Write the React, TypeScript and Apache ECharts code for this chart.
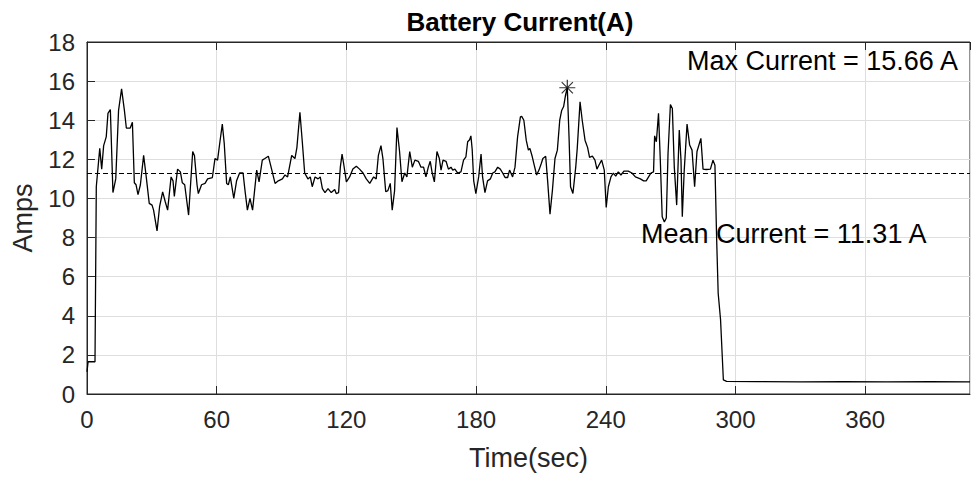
import React, { useEffect, useRef } from "react";
import * as echarts from "echarts";

const timeSec = [
  0, 0.5, 3.7, 4.3, 5.9, 6.8, 7.7, 8.9, 9.7, 10.8, 11.1, 12.0, 13.3, 14.6, 16.0, 17.3, 18.2, 20.0, 21.0, 21.9,
  22.7, 23.6, 24.7, 26.2, 27.4, 28.8, 30.1, 30.8, 32.4, 33.6, 35.0, 36.2, 37.3, 38.9, 39.8, 40.4, 41.9, 43.2, 44.1, 45.2,
  47.0, 48.9, 49.7, 50.9, 51.5, 53.0, 54.6, 55.8, 58.0, 59.2, 60.4, 61.5, 62.6, 63.5, 64.6, 65.4, 66.3, 67.9, 69.2, 70.6,
  72.2, 73.1, 74.2, 75.4, 76.6, 78.5, 79.6, 81.1, 82.3, 83.9, 85.4, 87.0, 88.5, 90.4, 91.6, 92.8, 94.7, 96.2, 97.1, 98.5,
  99.6, 100.7, 102.2, 103.3, 104.2, 105.5, 106.9, 107.9, 108.9, 110.1, 111.5, 113.0, 114.6, 115.3, 116.4, 117.2, 118.0, 118.7, 120.0, 121.5,
  123.0, 124.6, 126.1, 127.7, 129.2, 130.8, 132.6, 133.8, 134.8, 136.0, 136.9, 138.2, 139.2, 140.3, 141.2, 142.3, 143.4, 144.6, 145.7, 147.0,
  148.0, 149.3, 150.5, 151.7, 153.3, 154.5, 155.7, 156.8, 157.9, 158.8, 159.7, 160.7, 161.9, 163.0, 163.8, 164.7, 166.1, 167.2, 168.4, 169.2,
  170.2, 171.5, 173.0, 174.2, 175.3, 176.1, 177.0, 177.6, 178.2, 178.9, 179.9, 181.2, 182.3, 183.0, 184.1, 185.3, 186.6, 187.7, 188.7, 190.0,
  191.2, 192.3, 193.4, 194.6, 195.5, 196.9, 198.0, 199.2, 200.5, 201.1, 202.1, 203.2, 204.2, 204.9, 206.0, 206.9, 208.0, 209.1, 210.2, 210.9,
  212.2, 213.1, 214.2, 215.3, 216.5, 217.6, 218.7, 219.6, 220.5, 221.4, 222.2, 223.0, 223.7, 224.8, 226.1, 226.8, 228.1, 229.1, 230.4, 231.6,
  232.5, 233.8, 235.0, 235.9, 236.8, 238.1, 239.3, 240.2, 241.2, 242.4, 243.5, 244.6, 245.8, 247.0, 248.4, 250.4, 252.1, 253.7, 256.0, 257.5,
  258.7, 259.8, 260.9, 262.1, 262.6, 263.4, 264.4, 265.2, 266.1, 267.1, 268.0, 268.8, 269.9, 270.8, 271.7, 272.8, 273.2, 274.0, 274.8, 275.4,
  276.3, 277.6, 278.8, 279.9, 281.1, 282.2, 284.0, 285.0, 286.5, 288.4, 289.6, 290.5, 291.3, 292.0, 293.1, 294.4, 295.9, 310, 330, 350,
  370, 390, 408.5,
];

const currentA = [
  1.14, 1.65, 1.65, 10.6, 12.56, 11.5, 12.7, 13.15, 14.35, 14.55, 13.5, 10.3, 11.0, 14.5, 15.6, 14.5, 13.6, 13.6, 13.9, 10.8,
  10.7, 10.2, 10.7, 12.2, 11.1, 9.75, 9.66, 9.4, 8.34, 9.6, 10.34, 9.83, 9.4, 11.1, 10.9, 10.1, 11.5, 11.36, 10.8, 10.7,
  9.15, 12.4, 12.2, 10.7, 10.25, 10.7, 10.77, 11.0, 11.07, 12.04, 11.96, 12.9, 13.8, 12.8, 10.77, 10.7, 11.1, 10.0, 10.9, 11.3,
  11.3, 10.4, 9.4, 10.0, 9.4, 11.45, 10.85, 11.96, 12.04, 12.16, 11.5, 10.77, 10.9, 11.0, 11.2, 11.1, 12.2, 12.04, 12.6, 14.4,
  12.9, 11.3, 11.0, 11.1, 10.6, 11.1, 11.0, 11.1, 10.5, 10.3, 10.5, 10.3, 10.46, 10.25, 10.3, 11.6, 12.27, 11.8, 10.85, 11.1,
  11.5, 11.65, 11.5, 11.3, 11.0, 10.77, 11.1, 11.0, 12.2, 12.7, 12.04, 10.34, 10.4, 10.77, 9.4, 10.4, 13.63, 12.4, 10.85, 11.3,
  11.1, 12.4, 11.6, 11.96, 11.9, 11.6, 11.6, 11.1, 11.6, 11.9, 11.3, 10.85, 12.4, 12.04, 11.45, 11.96, 11.9, 11.5, 11.6, 11.45,
  11.5, 11.3, 11.36, 11.96, 12.13, 12.9, 13.0, 13.2, 12.5, 10.9, 10.25, 11.1, 12.27, 11.1, 10.3, 10.9, 11.0, 11.3, 11.36, 11.6,
  11.5, 11.3, 11.07, 11.07, 11.45, 11.1, 11.6, 13.15, 14.17, 14.2, 14.0, 12.98, 12.47, 12.56, 12.13, 11.7, 11.2, 11.45, 11.8, 12.04,
  12.16, 10.9, 9.2, 10.4, 12.04, 12.47, 14.0, 14.5, 14.7, 15.3, 15.66, 13.15, 10.6, 10.25, 11.6, 12.56, 14.94, 14.0, 12.98, 12.6,
  12.1, 12.16, 11.96, 11.5, 11.7, 11.96, 11.45, 9.54, 10.6, 11.1, 11.3, 11.14, 11.36, 11.2, 11.4, 11.4, 11.3, 11.1, 11.0, 10.9,
  10.9, 11.1, 11.3, 11.36, 13.2, 12.9, 14.35, 12.04, 9.06, 8.8, 9.0, 12.3, 14.8, 14.6, 11.6, 9.66, 10.9, 13.5, 11.96, 9.06,
  11.45, 13.8, 12.73, 12.47, 10.6, 12.4, 13.07, 11.5, 11.48, 11.5, 11.96, 11.7, 7.9, 5.15, 3.8, 0.72, 0.65, 0.63, 0.62, 0.63,
  0.62, 0.63, 0.62,
];

const meanCurrent = 11.31;
const maxCurrent = 15.66;
const maxTime = 222.2;
const xMin = 0;
const xMax = 408.5;
const xStep = 60;
const yMin = 0;
const yMax = 18;
const yStep = 2;

const titleText = "Battery Current(A)";
const xName = "Time(sec)";
const yName = "Amps";
const maxLabel = `Max Current = ${maxCurrent.toFixed(2)} A`;
const meanLabel = `Mean Current = ${meanCurrent.toFixed(2)} A`;

const FONT = "'Liberation Sans', Arial, Helvetica, sans-serif";
const AX = "#262626";

export default function App() {
  const ref = useRef<HTMLDivElement>(null);
  useEffect(() => {
    if (!ref.current) return;
    const chart = echarts.init(ref.current, undefined, { renderer: "svg" });
    const lineData = timeSec.map((t, i) => [t, currentA[i]]);
    const star = "path://M10 0 L10 20 M0 10 L20 10 M3 3 L17 17 M17 3 L3 17";
    chart.setOption({
      animation: false,
      backgroundColor: "#ffffff",
      grid: {
        left: 87,
        top: 42,
        right: 2,
        bottom: 85,
        show: true,
        borderColor: AX,
        borderWidth: 1,
        backgroundColor: "transparent",
      },
      xAxis: [
        {
          type: "value",
          min: xMin,
          max: xMax,
          interval: xStep,
          position: "bottom",
          name: xName,
          nameLocation: "middle",
          nameGap: 50,
          nameTextStyle: { fontFamily: FONT, fontSize: 27, color: AX },
          axisLine: { show: true, lineStyle: { color: AX, width: 1 } },
          axisTick: { show: true, inside: true, length: 8, lineStyle: { color: AX } },
          axisLabel: { fontFamily: FONT, fontSize: 24, color: AX, margin: 13, showMaxLabel: false },
          splitLine: { show: true, lineStyle: { color: "#dedede", width: 1 } },
        },
        {
          type: "value",
          min: xMin,
          max: xMax,
          interval: xStep,
          position: "top",
          axisLine: { show: true, lineStyle: { color: AX, width: 1 } },
          axisTick: { show: true, inside: true, length: 8, lineStyle: { color: AX } },
          axisLabel: { show: false },
          splitLine: { show: false },
        },
      ],
      yAxis: {
        type: "value",
        min: yMin,
        max: yMax,
        interval: yStep,
        axisLine: { show: true, lineStyle: { color: AX, width: 1 } },
        axisTick: { show: true, inside: true, length: 8, lineStyle: { color: AX } },
        axisLabel: { fontFamily: FONT, fontSize: 24, color: AX, margin: 12 },
        splitLine: { show: true, lineStyle: { color: "#dedede", width: 1 } },
      },
      graphic: [
        {
          type: "text",
          x: 520,
          y: 22,
          style: {
            text: titleText,
            fontFamily: FONT,
            fontSize: 26,
            fontWeight: "bold",
            fill: "#000",
            textAlign: "center",
            textVerticalAlign: "middle",
          },
        },
        {
          type: "text",
          x: 23,
          y: 218,
          rotation: Math.PI / 2,
          style: {
            text: yName,
            fontFamily: FONT,
            fontSize: 27,
            fill: AX,
            textAlign: "center",
            textVerticalAlign: "middle",
          },
        },
        {
          type: "text",
          x: 687,
          y: 61,
          z: 10,
          style: {
            text: maxLabel,
            fontFamily: FONT,
            fontSize: 27,
            fill: "#000",
            textAlign: "left",
            textVerticalAlign: "middle",
          },
        },
        {
          type: "text",
          x: 641,
          y: 234,
          z: 10,
          style: {
            text: meanLabel,
            fontFamily: FONT,
            fontSize: 27,
            fill: "#000",
            textAlign: "left",
            textVerticalAlign: "middle",
          },
        },
      ],
      series: [
        {
          type: "line",
          data: lineData,
          showSymbol: false,
          symbol: "none",
          lineStyle: { color: "#000", width: 1.3 },
          markLine: {
            silent: true,
            symbol: "none",
            label: { show: false },
            lineStyle: { color: "#000", type: [5, 3], width: 1 },
            data: [{ yAxis: meanCurrent }],
          },
        },
        {
          type: "scatter",
          data: [[maxTime, maxCurrent]],
          symbol: star,
          symbolSize: 16,
          itemStyle: { color: "none", borderColor: "#000", borderWidth: 1.2 },
          z: 5,
        },
      ],
    });
    return () => chart.dispose();
  }, []);
  return (
    <div
      ref={ref}
      style={{ position: "fixed", left: 0, top: 0, width: 972, height: 479, background: "#fff" }}
    />
  );
}
